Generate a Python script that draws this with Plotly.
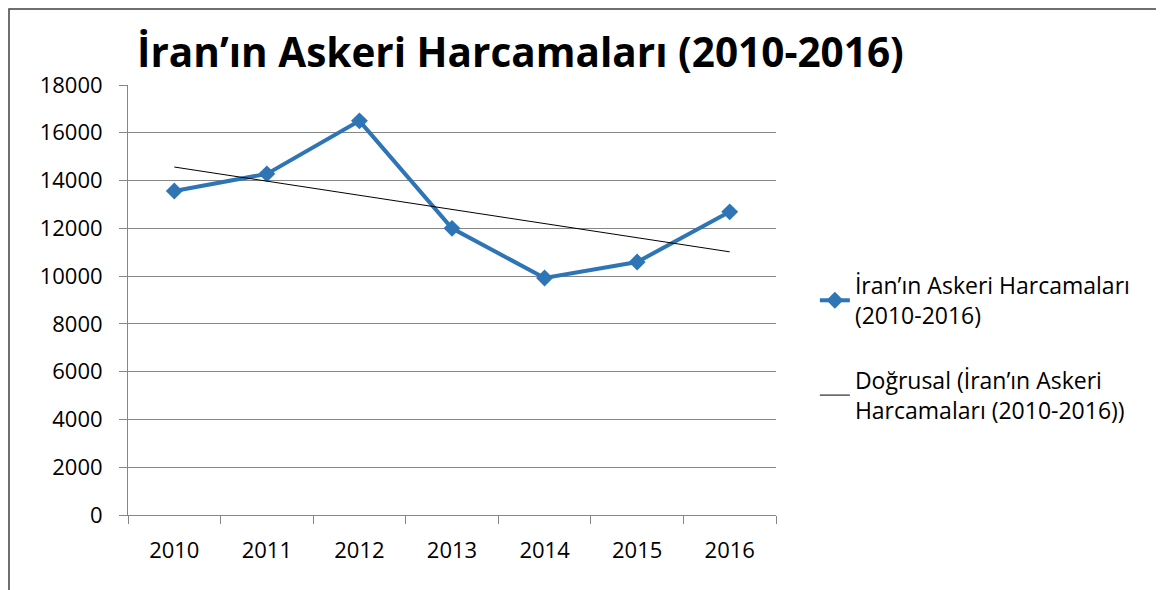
import numpy as np
import plotly.graph_objects as go

years = ["2010", "2011", "2012", "2013", "2014", "2015", "2016"]
spending = [13560, 14280, 16500, 12000, 9920, 10590, 12690]
y_ticks = [0, 2000, 4000, 6000, 8000, 10000, 12000, 14000, 16000, 18000]
y_labels = ["0", "2000", "4000", "6000", "8000", "10000", "12000", "14000", "16000", "18000"]

title_text = "İran’ın Askeri Harcamaları (2010-2016)"
series_name = "İran’ın Askeri Harcamaları<br>(2010-2016)"
trend_name = "Doğrusal (İran’ın Askeri<br>Harcamaları (2010-2016))"

# linear trendline (least squares over category index), like Excel's "Doğrusal"
idx = np.arange(len(years))
slope, intercept = np.polyfit(idx, spending, 1)
trend = slope * idx + intercept

blue = "#2E75B6"
font = "Open Sans"

# page body has an 8px margin, so margins are offset by that amount
L, T, PW, PH = 120, 77, 648, 430

fig = go.Figure()
fig.add_trace(go.Scatter(
    x=years, y=spending, name=series_name, mode="lines+markers",
    line=dict(color=blue, width=4),
    marker=dict(symbol="diamond", size=13, color=blue),
    legendgroup="a",
))
fig.add_trace(go.Scatter(
    x=years, y=trend, name=trend_name, mode="lines",
    line=dict(color="black", width=1),
    legendgroup="b",
))

fig.update_layout(
    width=1164, height=590,
    margin=dict(l=L, r=1164 - L - PW, t=T, b=590 - T - PH, autoexpand=False),
    paper_bgcolor="white", plot_bgcolor="white",
    font=dict(family=font, size=22, color="black"),
    title=dict(text="<b>" + title_text + "</b>", font=dict(family=font, size=40.5, color="black"),
               xref="paper", x=0.014, xanchor="left",
               yref="container", y=1 - 45 / 590, yanchor="middle"),
    showlegend=True,
    legend=dict(x=1.06, xanchor="left", y=0.584, yanchor="top",
                font=dict(family=font, size=23), traceorder="grouped",
                tracegroupgap=32, bgcolor="rgba(0,0,0,0)"),
    shapes=[dict(type="rect", xref="paper", yref="paper",
                 x0=(1 - L) / PW, x1=(1152 - L) / PW,
                 y0=-0.3, y1=(T + PH - 1) / PH,
                 line=dict(color="#404040", width=1.5), layer="below")],
)

fig.update_xaxes(type="category", range=[-0.5, 6.5], tickson="boundaries",
                 ticks="outside", ticklen=8, tickcolor="#868686",
                 showline=True, linecolor="#868686", linewidth=1,
                 showgrid=False, ticklabelstandoff=16, automargin=False)
fig.update_yaxes(range=[0, 18000], tickvals=y_ticks, ticktext=y_labels,
                 ticks="outside", ticklen=8, tickcolor="#868686",
                 showline=True, linecolor="#868686", linewidth=1,
                 showgrid=True, gridcolor="#868686", gridwidth=1,
                 zeroline=False, ticklabelstandoff=12, automargin=False)

fig.write_html("out.html")
